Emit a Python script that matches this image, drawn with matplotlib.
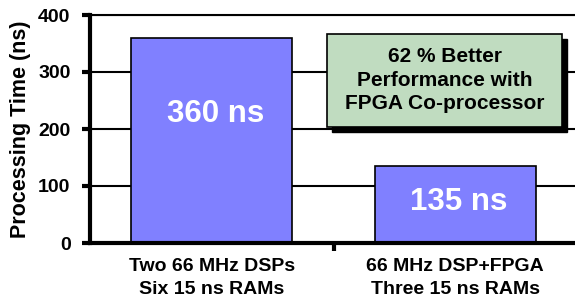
import matplotlib
matplotlib.use("Agg")
import matplotlib.pyplot as plt
from matplotlib.patches import Rectangle

plt.rcParams['font.family'] = ['Liberation Sans', 'DejaVu Sans']
plt.rcParams['font.weight'] = 'bold'

# data
categories = ["Two 66 MHz DSPs\nSix 15 ns RAMs", "66 MHz DSP+FPGA\nThree 15 ns RAMs"]
times_ns = [360, 135]
value_labels = ["360 ns", "135 ns"]
yticks = [0, 100, 200, 300, 400]
note_text = "62 % Better\nPerformance with\nFPGA Co-processor"

# where the white value labels sit inside the bars
label_y = [226, 72]

bar_color = "#8080FF"
box_color = "#C0DCC0"

fig = plt.figure(figsize=(5.75, 3.05), dpi=100)
ax = fig.add_axes([90 / 575, 62 / 305, 485 / 575, 228 / 305])

x = list(range(len(categories)))
ax.bar(x, times_ns, width=0.66, color=bar_color, edgecolor="black", linewidth=1.2, zorder=3)

for xi, lab, ly in zip(x, value_labels, label_y):
    ax.text(xi + 0.015, ly, lab, color="white", fontsize=22.5, fontweight="bold",
            ha="center", va="center", zorder=4)

ax.set_xlim(-0.5, -0.5 + 485 / 243.5)
ax.set_ylim(0, 400)
ax.set_yticks(yticks)
ax.set_yticklabels([str(t) for t in yticks], fontsize=14, fontweight="bold")
ax.set_xticks(x)
ax.set_xticklabels(categories, fontsize=14, fontweight="bold", linespacing=1.45)
ax.set_xticks([0.5], minor=True)
ax.tick_params(axis="x", which="major", length=0, pad=11)
ax.tick_params(axis="x", which="minor", length=6, width=3, direction="out")
ax.tick_params(axis="y", length=6, width=3, direction="out", pad=8)

ax.yaxis.grid(True, color="black", linewidth=1.5, zorder=0)
ax.set_axisbelow(True)

ax.spines["left"].set_linewidth(3)
ax.spines["bottom"].set_linewidth(3)
ax.spines["bottom"].set_zorder(5)
ax.spines["right"].set_visible(False)
ax.spines["top"].set_linewidth(1.5)

ax.set_ylabel("Processing Time (ns)", fontsize=15.5, fontweight="bold", labelpad=5)

# callout box with drop shadow
bx, by, bw, bh = 0.4887, 0.5088, 0.4845, 0.4079
ax.add_patch(Rectangle((bx + 0.011, by - 0.022), bw, bh, transform=ax.transAxes,
                       facecolor="black", edgecolor="black", zorder=6))
ax.add_patch(Rectangle((bx, by), bw, bh, transform=ax.transAxes,
                       facecolor=box_color, edgecolor="black", linewidth=1.2, zorder=7))
ax.text(bx + bw / 2, by + bh / 2, note_text, transform=ax.transAxes, fontsize=15,
        fontweight="bold", ha="center", va="center", linespacing=1.3, zorder=8)

fig.savefig("out.png", dpi=100)
